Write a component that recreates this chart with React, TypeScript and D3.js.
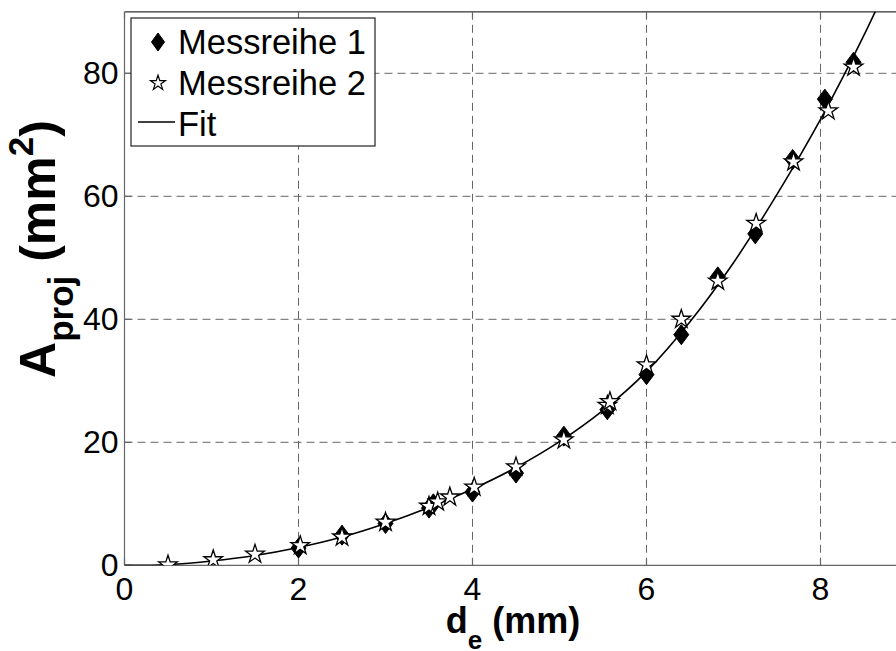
import React from 'react';
import * as d3 from 'd3';

const W = 896;
const H = 651;
const FONT = '"Liberation Sans", Arial, sans-serif';

const xTicks = [0, 2, 4, 6, 8];
const yTicks = [0, 20, 40, 60, 80];

// Messreihe 1 (filled diamonds)
const m1X = [2.0, 2.5, 3.0, 3.5, 3.55, 4.0, 4.5, 5.05, 5.55, 6.0, 6.4, 6.82, 7.25, 7.68, 8.05, 8.38];
const m1Y = [2.8, 4.9, 6.8, 9.3, 10.0, 11.9, 15.0, 21.0, 25.3, 31.0, 37.5, 46.9, 53.9, 66.0, 75.8, 81.8];

// Messreihe 2 (open stars)
const m2X = [0.5, 1.02, 1.5, 2.02, 2.5, 3.0, 3.5, 3.6, 3.74, 4.02, 4.5, 5.05, 5.55, 5.58, 6.0, 6.4, 6.82, 7.26, 7.69, 8.09, 8.38];
const m2Y = [0.05, 0.9, 1.8, 3.2, 4.6, 7.0, 9.6, 10.3, 11.1, 12.7, 16.0, 20.4, 26.0, 26.6, 32.6, 40.0, 46.2, 55.6, 65.6, 73.9, 81.0];

// Fit curve
const fitX = [0, 0.3, 0.5, 1, 1.5, 2, 2.5, 3, 3.5, 4, 4.5, 5, 5.5, 6, 6.5, 7, 7.5, 8, 8.5, 9];
const fitY = [0, 0, 0.1, 0.7, 1.6, 2.9, 4.6, 6.8, 9.4, 12.4, 15.9, 20.1, 25.2, 31.5, 39.6, 49.2, 60.3, 72.5, 86.2, 101.5];

const legendLabels = ['Messreihe 1', 'Messreihe 2', 'Fit'];

const x0 = 124.5;
const top = 11.8;
const bottom = 565.3;
const x = d3.scaleLinear().domain([0, 9]).range([x0, x0 + 87 * 9]);
const y = d3.scaleLinear().domain([0, 90]).range([bottom, top]);

// MATLAB-like diamond marker (wider than d3's symbolDiamond)
function diamondPath(hw: number, hh: number) {
  const p = d3.path();
  p.moveTo(0, -hh);
  p.lineTo(hw, 0);
  p.lineTo(0, hh);
  p.lineTo(-hw, 0);
  p.closePath();
  return p.toString();
}
const diamond = diamondPath(7.5, 10);
const legendDiamond = diamondPath(6.5, 9);
const star = d3.symbol(d3.symbolStar, 108)() as string;
const smallStar = d3.symbol(d3.symbolStar, 70)() as string;

export default function App() {
  const fitLine = d3
    .line<number>()
    .x((d, i) => x(fitX[i]))
    .y((d) => y(d))
    .curve(d3.curveCatmullRom)(fitY) as string;

  const gridColor = '#666';
  const axisColor = '#666';

  return (
    <svg width={W} height={H} style={{ position: 'absolute', left: 0, top: 0, background: '#fff' }} fontFamily={FONT}>
      <defs>
        <clipPath id="plot-clip">
          <rect x={x0} y={top} width={W - x0} height={bottom - top} />
        </clipPath>
      </defs>
      <rect width={W} height={H} fill="#fff" />

      {/* grid */}
      <g stroke={gridColor} strokeWidth={1} strokeDasharray="8,5">
        {xTicks.filter((t) => t > 0).map((t) => (
          <line key={'gx' + t} x1={x(t)} x2={x(t)} y1={top} y2={bottom} />
        ))}
        {yTicks.filter((t) => t > 0).map((t) => (
          <line key={'gy' + t} x1={x0} x2={W} y1={y(t)} y2={y(t)} />
        ))}
      </g>

      {/* axes */}
      <line x1={x0} x2={W} y1={top} y2={top} stroke="#333" strokeWidth={1.2} />
      <line x1={x0} x2={x0} y1={top} y2={bottom} stroke={axisColor} strokeWidth={1.2} />
      <line x1={x0} x2={W} y1={bottom} y2={bottom} stroke={axisColor} strokeWidth={1.2} />
      <g stroke={axisColor} strokeWidth={1.2}>
        {xTicks.map((t) => (
          <g key={'tx' + t}>
            <line x1={x(t)} x2={x(t)} y1={bottom} y2={bottom - 7} />
            <line x1={x(t)} x2={x(t)} y1={top} y2={top + 7} />
          </g>
        ))}
        {yTicks.map((t) => (
          <line key={'ty' + t} x1={x0} x2={x0 + 7} y1={y(t)} y2={y(t)} />
        ))}
      </g>

      {/* tick labels */}
      <g fontSize={32} fill="#000">
        {xTicks.map((t) => (
          <text key={'lx' + t} x={x(t)} y={bottom + 35} textAnchor="middle">
            {t}
          </text>
        ))}
        {yTicks.map((t) => (
          <text key={'ly' + t} x={x0 - 6} y={y(t) + 11} textAnchor="end">
            {t}
          </text>
        ))}
      </g>

      {/* data */}
      <g clipPath="url(#plot-clip)">
        <path d={fitLine} fill="none" stroke="#000" strokeWidth={1.6} />
        {m1X.map((d, i) => (
          <path key={'m1' + i} d={diamond} transform={`translate(${x(d)},${y(m1Y[i])})`} fill="#000" stroke="#000" strokeWidth={1} />
        ))}
        {m2X.map((d, i) => (
          <path key={'m2' + i} d={star} transform={`translate(${x(d)},${y(m2Y[i])})`} fill="#fff" stroke="#000" strokeWidth={1.3} />
        ))}
      </g>

      {/* legend */}
      <g>
        <rect x={131} y={18} width={244} height={128} fill="#fff" stroke="#222" strokeWidth={1.2} />
        <path d={legendDiamond} transform="translate(158,42)" fill="#000" stroke="#000" />
        <path d={smallStar} transform="translate(158,83)" fill="#fff" stroke="#000" strokeWidth={1.2} />
        <line x1={138} x2={175} y1={122} y2={122} stroke="#000" strokeWidth={1.6} />
        {legendLabels.map((l, i) => (
          <text key={l} x={178} y={[54, 95, 136][i]} fontSize={34.5} fill="#000">
            {l}
          </text>
        ))}
      </g>

      {/* axis labels */}
      <text x={513} y={633} textAnchor="middle" fontSize={36} fontWeight="bold" fill="#000">
        d<tspan dy={16} fontSize={26}>e</tspan>
        <tspan dy={-16}> (mm)</tspan>
      </text>
      <text transform="translate(55,249) rotate(-90)" textAnchor="middle" fontSize={50} fontWeight="bold" fill="#000">
        A<tspan dy={18} fontSize={35}>proj</tspan>
        <tspan dy={-18}> (mm</tspan>
        <tspan dy={-22} fontSize={35}>2</tspan>
        <tspan dy={22}>)</tspan>
      </text>
    </svg>
  );
}
